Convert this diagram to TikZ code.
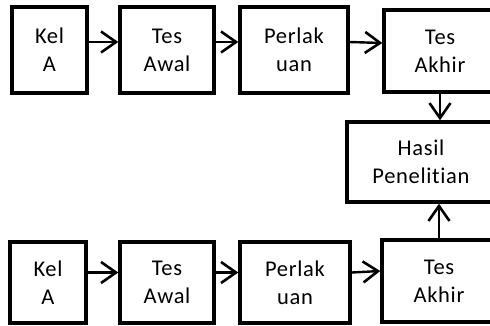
\documentclass[tikz,border=0pt]{standalone}
\usepackage{fontspec}
\setmainfont[RawFeature={-liga;-clig}, LetterSpace=3]{Carlito}
\usetikzlibrary{arrows.meta}
\tikzset{
  stage/.style={draw, line width=3.4pt, fill=white, inner sep=0pt,
    align=center, font=\fontsize{22.5}{28}\selectfont},
  flow/.style={line width=2.4pt, -{Straight Barb[length=15pt,width=21pt,line width=2.6pt]}}
}
% box given by its pixel corners (left, top, right, bottom), y counted downwards
\newcommand{\stagebox}[6]{%
  \node[stage, minimum width={(#4-#2)*1pt}, minimum height={(#5-#3)*1pt}]
    (#1) at ({(#2+#4)/2*1pt}, {-(#3+#5)/2*1pt}) {#6};}
\begin{document}
\begin{tikzpicture}[x=1pt,y=1pt]
\useasboundingbox (0,0) rectangle (490,-325);
\clip (0,0) rectangle (490,-325);
% upper row
\stagebox{a1}{12}{7}{87}{93}{Kel\\A}
\stagebox{b1}{120}{7}{214}{93}{Tes\\Awal}
\stagebox{c1}{240}{7}{348}{93}{Perlak\\uan}
\stagebox{d1}{384}{10}{496}{92}{Tes\\Akhir}
% result
\stagebox{h}{347}{122}{495}{202}{Hasil\\Penelitian}
% lower row
\stagebox{a2}{10}{242}{86}{323}{Kel\\A}
\stagebox{b2}{120}{242}{214}{323}{Tes\\Awal}
\stagebox{c2}{240}{242}{350}{323}{Perlak\\uan}
\stagebox{d2}{382}{240}{496}{322}{Tes\\Akhir}
% connectors
\draw[flow] ([yshift=8]a1.east) -- ([yshift=8]b1.west);
\draw[flow] ([yshift=8]b1.east) -- ([yshift=8]c1.west);
\draw[flow] ([yshift=8]c1.east) -- ([yshift=8]d1.west);
\draw[flow] ([yshift=10]a2.east) -- ([yshift=10]b2.west);
\draw[flow] ([yshift=10]b2.east) -- ([yshift=10]c2.west);
\draw[flow] ([yshift=10]c2.east) -- ([yshift=10]d2.west);
\draw[flow] (d1.south) -- (d1.south |- h.north);
\draw[flow] (d2.north) -- (d2.north |- h.south);
\end{tikzpicture}
\end{document}
